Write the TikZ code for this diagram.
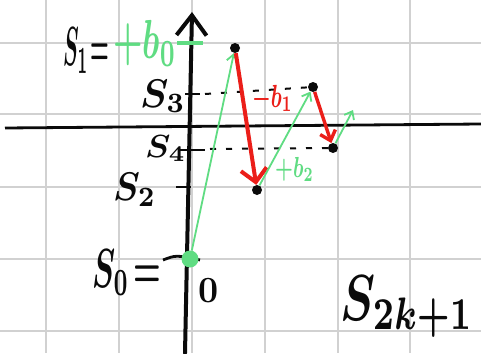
\documentclass[tikz,border=0pt]{standalone}
\usepackage{tikz}
\usetikzlibrary{arrows.meta}
\definecolor{pen}{RGB}{10,10,10}
\definecolor{grn}{RGB}{95,220,130}
\definecolor{rd}{RGB}{235,30,25}

\begin{document}
\begin{tikzpicture}[x=1pt,y=-1pt,
  dot/.style={circle, fill=pen, inner sep=0pt, minimum size=10pt},
  lbl/.style={text=pen, inner sep=0pt, anchor=base west, font=\boldmath},
  gline/.style={draw=grn, line width=1.8pt, -{Straight Barb[length=7pt,width=11pt]}},
  rline/.style={draw=rd, line width=4pt, -{Straight Barb[length=13pt,width=26pt]}},
  tick/.style={draw=pen, line width=2.8pt},
  guide/.style={draw=pen, line width=2pt, dash pattern=on 6pt off 10pt}]
\useasboundingbox (0,0) rectangle (481,353);
\fill[white] (0,0) rectangle (481,353);
\foreach \gx in {46,119,192,265,338,410} \draw[black!18, line width=1.2pt] (\gx,0) -- (\gx,353);
\foreach \gy in {43,114,187,259,331} \draw[black!18, line width=1.2pt] (0,\gy) -- (481,\gy);
\coordinate (xleft) at (5,128);
\coordinate (xright) at (481,124);
\coordinate (ybot) at (185,353);
\coordinate (ytop) at (192,12);
\draw[pen, line width=2.8pt] (xleft) -- (xright);
\draw[pen, line width=4pt, line cap=round, -{Straight Barb[length=20pt,width=30pt]}] (ybot) -- (ytop);
\draw[draw=grn, line width=4pt] (177,43) -- (203,43);
\draw[tick] (185,94) -- (200,94);
\draw[tick] (180,150) -- (205,150);
\draw[tick] (176,187) -- (191,187);
\draw[tick] (163,260) .. controls (176,255) .. (200,260);
\node[dot] (p1) at (235,48) {};
\node[dot] (p2) at (257,190) {};
\node[dot] (p3) at (313,87) {};
\node[dot] (p4) at (333,148) {};
\node[circle, fill=grn, inner sep=0pt, minimum size=17pt] (p0) at (190,259) {};
\coordinate (p5) at (353,110);
\coordinate (s3tick) at (205,94);
\coordinate (s4tick) at (210,149);
\draw[guide] (s3tick) -- (p3);
\draw[guide] (s4tick) -- (p4);
\draw[gline] (p0) -- (p1);
\draw[rline] (p1) -- (p2);
\draw[gline] (p2) -- (p3);
\draw[rline, line width=3.4pt, -{Straight Barb[length=9pt,width=16pt]}] (p3) -- (p4);
\draw[gline] (p4) -- (p5);
\node[lbl] (s1lbl) at (63,65) {\scalebox{2.1}[5.5]{$S_1\!=$}};
\node[lbl, text=grn] (b0lbl) at (113,58) {\scalebox{3.3}[5.5]{$+b_0$}};
\node[lbl] (s3lbl) at (140,107) {\scalebox{3.8}[4]{$S_3$}};
\node[lbl] (s4lbl) at (145,157) {\scalebox{3.4}[3.2]{$S_4$}};
\node[lbl] (s2lbl) at (113,200) {\scalebox{3.6}[4]{$S_2$}};
\node[lbl] (s0lbl) at (92,287) {\scalebox{3.1}[5.5]{$S_0\!=$}};
\node[lbl] (zero) at (198,302) {\scalebox{3.5}[3.7]{$0$}};
\node[lbl, text=rd] (b1lbl) at (252,107) {\scalebox{2.1}[3.2]{$-b_1$}};
\node[lbl, text=grn] (b2lbl) at (275,177) {\scalebox{2}[2.9]{$+b_2$}};
\node[lbl] (sklbl) at (340,320) {\scalebox{4.7}[6.5]{$S_{2k+1}$}};
\end{tikzpicture}
\end{document}
